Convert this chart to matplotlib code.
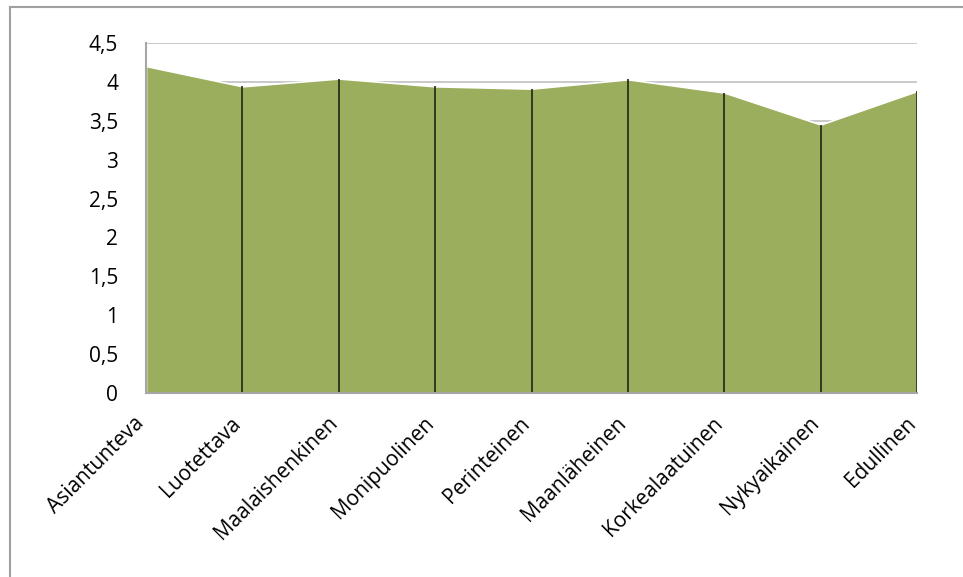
import matplotlib
matplotlib.use("Agg")
import matplotlib.pyplot as plt
import matplotlib.transforms as mtransforms
from matplotlib.lines import Line2D

categories = ["Asiantunteva", "Luotettava", "Maalaishenkinen", "Monipuolinen",
              "Perinteinen", "Maanläheinen", "Korkealaatuinen", "Nykyaikainen",
              "Edullinen"]
values = [4.20, 3.94, 4.04, 3.94, 3.91, 4.03, 3.86, 3.45, 3.88]
y_ticks = [0, 0.5, 1, 1.5, 2, 2.5, 3, 3.5, 4, 4.5]
y_tick_labels = ["0", "0,5", "1", "1,5", "2", "2,5", "3", "3,5", "4", "4,5"]

plt.rcParams["font.family"] = ["Open Sans", "DejaVu Sans"]

fig = plt.figure(figsize=(9.63, 5.77), dpi=100)
ax = fig.add_axes([146 / 963, 1 - 393.3 / 577, (917 - 146) / 963, (393.3 - 42.7) / 577])

x = list(range(len(categories)))
ax.fill_between(x, values, 0, color="#9AAE5D", edgecolor="white", lw=1.2, zorder=2)
# drop lines
ax.vlines(x, 0, values, color="#1E2612", lw=1.2, zorder=3)

ax.set_xlim(0, len(categories) - 1)
ax.set_ylim(0, 4.5)
ax.set_yticks(y_ticks)
ax.set_yticklabels(y_tick_labels, fontsize=15)
ax.yaxis.grid(True, color="#C0C0C0", lw=1.2, zorder=1)
ax.set_axisbelow(True)

ax.set_xticks(x)
ax.set_xticklabels(categories, fontsize=15, rotation=45, ha="right",
                   rotation_mode="anchor")
ax.tick_params(axis="both", length=0)
ax.tick_params(axis="y", pad=20)
ax.tick_params(axis="x", pad=14)

# nudge the rotated labels a bit to the left, like Excel places them
shift = mtransforms.ScaledTranslation(-12 / 100, 0, fig.dpi_scale_trans)
for lbl in ax.get_xticklabels():
    lbl.set_transform(lbl.get_transform() + shift)

for side in ["top", "right"]:
    ax.spines[side].set_visible(False)
for side in ["left", "bottom"]:
    ax.spines[side].set_color("#A6A6A6")
    ax.spines[side].set_linewidth(1.5)
    ax.spines[side].set_zorder(4)

# outer chart frame
fig.add_artist(Line2D([9.5 / 963, 9.5 / 963], [0, 1 - 7 / 577], color="#A0A0A0", lw=1.5))
fig.add_artist(Line2D([9.5 / 963, 1], [1 - 7 / 577, 1 - 7 / 577], color="#A0A0A0", lw=1.5))

fig.savefig("out.png", dpi=100)
